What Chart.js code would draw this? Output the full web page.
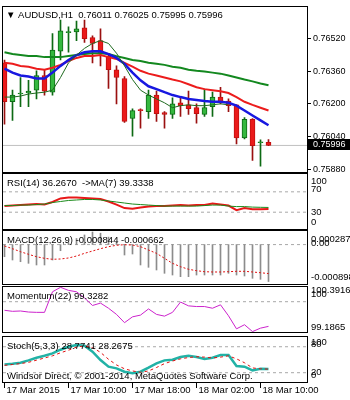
<!DOCTYPE html>
<html>
<head>
<meta charset="utf-8">
<script src="https://cdn.jsdelivr.net/npm/chart.js@4.4.1/dist/chart.umd.min.js"></script>
<style>
  html, body { margin: 0; padding: 0; background: #ffffff; }
  body { width: 350px; height: 400px; position: relative; overflow: hidden; }
  canvas { position: absolute; left: 0; top: 0; }
</style>
</head>
<body>
<canvas id="mainChart" width="350" height="400"></canvas>
<canvas id="rsiChart" width="350" height="400"></canvas>
<canvas id="macdChart" width="350" height="400"></canvas>
<canvas id="momChart" width="350" height="400"></canvas>
<canvas id="stochChart" width="350" height="400"></canvas>
<script>
// ================= DATA =================
const symbol = 'AUDUSD,H1';
const opens  = [0.76401,0.76210,0.76248,0.76253,0.76267,0.76339,0.76257,0.76458,0.76549,0.76553,0.76573,0.76525,0.76510,0.76434,0.76367,0.76324,0.76128,0.76171,0.76162,0.76243,0.76157,0.76148,0.76205,0.76195,0.76181,0.76148,0.76186,0.76233,0.76214,0.76195,0.76033,0.76124,0.76009,0.76011];
const highs  = [0.76415,0.76267,0.76329,0.76315,0.76362,0.76367,0.76544,0.76611,0.76577,0.76606,0.76611,0.76534,0.76568,0.76448,0.76386,0.76334,0.76176,0.76176,0.76267,0.76262,0.76162,0.76229,0.76233,0.76262,0.76200,0.76272,0.76257,0.76281,0.76224,0.76195,0.76133,0.76128,0.76023,0.76025];
const lows   = [0.76100,0.76119,0.76186,0.76186,0.76224,0.76243,0.76243,0.76415,0.76453,0.76510,0.76501,0.76401,0.76386,0.76276,0.76200,0.76109,0.76042,0.76081,0.76128,0.76114,0.76081,0.76128,0.76138,0.76148,0.76105,0.76138,0.76138,0.76200,0.76162,0.76004,0.76028,0.75923,0.75894,0.75995];
const closes = [0.76210,0.76243,0.76253,0.76262,0.76339,0.76262,0.76463,0.76558,0.76553,0.76568,0.76520,0.76496,0.76448,0.76367,0.76329,0.76114,0.76167,0.76167,0.76243,0.76152,0.76148,0.76200,0.76191,0.76176,0.76152,0.76181,0.76233,0.76210,0.76191,0.76033,0.76124,0.75995,0.76014,0.75996];

const maSlow = [0.76453,0.76444,0.76439,0.76434,0.76434,0.76429,0.76429,0.76429,0.76434,0.76439,0.76444,0.76448,0.76448,0.76444,0.76434,0.76425,0.76415,0.76410,0.76401,0.76396,0.76391,0.76382,0.76377,0.76367,0.76362,0.76358,0.76353,0.76348,0.76339,0.76329,0.76319,0.76310,0.76300,0.76291];
const maMid  = [0.76401,0.76396,0.76386,0.76382,0.76372,0.76367,0.76377,0.76391,0.76410,0.76425,0.76434,0.76434,0.76439,0.76429,0.76420,0.76401,0.76382,0.76362,0.76348,0.76339,0.76329,0.76319,0.76310,0.76296,0.76281,0.76272,0.76267,0.76262,0.76253,0.76233,0.76210,0.76195,0.76181,0.76167];
const maFast = [0.76372,0.76353,0.76339,0.76334,0.76324,0.76324,0.76353,0.76386,0.76415,0.76439,0.76453,0.76458,0.76458,0.76444,0.76425,0.76396,0.76353,0.76315,0.76286,0.76272,0.76257,0.76243,0.76233,0.76224,0.76219,0.76214,0.76210,0.76210,0.76205,0.76191,0.76167,0.76143,0.76119,0.76095];
const maThin = [0.76233,0.76233,0.76238,0.76248,0.76253,0.76257,0.76267,0.76329,0.76401,0.76439,0.76472,0.76496,0.76510,0.76496,0.76448,0.76386,0.76319,0.76267,0.76243,0.76224,0.76205,0.76181,0.76191,0.76195,0.76191,0.76191,0.76195,0.76200,0.76195,null,null,null,null,null];
const priceTicks = [0.76520, 0.76360, 0.76200, 0.76040, 0.75880];

const rsiValues = [42,43,44,45,46,45,50,57,59,59,58,57,56,51,45,38,37,39,41,42,42,43,44,43,44,44,47,45,43,34,38,36,36,36.2670];
const rsiMa     = [43,43,44,44,45,46,49,51,53,54,55,55,54,52,50,48,46,45,44,43,42,42,42,42,42,43,44,44,42,41,41,40,39.6,39.3338];
const rsiLevels = [70, 30];
const rsiAxisValues = [100, 70, 30, 0];
const rsiAxisLabels = ['100', '70', '30', '0'];

const macdMain   = [-0.000277,-0.000352,-0.000391,-0.000428,-0.000466,-0.000466,-0.000352,-0.00014,0.00004,0.00014,0.00022,0.000287,0.00026,0.00017,0.00005,-0.000238,-0.000215,-0.000466,-0.000519,-0.00058,-0.000656,-0.000695,-0.000733,-0.000733,-0.000695,-0.000695,-0.000695,-0.000695,-0.000656,-0.000695,-0.000717,-0.00077,-0.000793,-0.000844];
const macdSignal = [-0.000032,-0.000094,-0.000163,-0.000222,-0.000277,-0.000314,-0.000336,-0.000329,-0.000306,-0.000261,-0.0002,-0.000147,-0.000094,-0.000048,-0.000016,-0.000003,-0.00001,-0.000048,-0.000124,-0.0002,-0.000314,-0.000428,-0.000505,-0.000564,-0.000596,-0.000619,-0.000626,-0.000626,-0.000619,-0.00061,-0.00061,-0.000626,-0.000642,-0.000662];
const macdLevels = [0];
const macdAxisValues = [0.000287, 0, -0.000898];
const macdAxisLabels = ['0.000287', '0.00', '-0.000898'];

const momentumValues = [99.766,99.738,99.747,99.719,99.710,99.710,100.270,100.3916,100.308,100.270,100.102,99.897,99.962,99.822,99.654,99.429,99.588,99.635,99.803,99.654,99.607,99.710,99.990,99.887,99.868,99.868,99.822,99.915,99.616,99.261,99.373,99.1865,99.280,99.3282];
const momentumLevels = [100];
const momentumAxisValues = [100.3916, 100, 99.1865];
const momentumAxisLabels = ['100.3916', '100', '99.1865'];

const stochMain   = [39.2,40.8,43.1,48.5,54.6,59.2,64.6,73.1,80,83.8,82.3,68.5,49.2,33.9,30,22.3,18.5,22.3,31.6,41.6,48.5,50,56.2,59.2,56.2,51.5,54.6,60.8,60.8,35.4,33.9,25.4,29.2,28.7741];
const stochSignal = [37,39,41,44,49,54,59,66,72,79,82,78,67,51,38,29,24,21,24,32,41,47,52,55,57,56,54,56,59,52,43,31,29,28.2675];
const stochLevels = [80, 20];
const stochAxisValues = [100, 80, 20, 0];
const stochAxisLabels = ['100', '80', '20', '0'];

const timeLabels = ['17 Mar 2015', '17 Mar 10:00', '17 Mar 18:00', '18 Mar 02:00', '18 Mar 10:00'];
const timeLabelBars = [0, 8, 16, 24, 32];
const copyright = 'Windsor Direct, \u00a9 2001-2014, MetaQuotes Software Corp.';

// ================= STYLE / LAYOUT =================
const FONT_FAMILY = '"Liberation Sans", "DejaVu Sans", Arial, sans-serif';
const FONT_SIZE = 9.5;
const X_MIN = -0.1875, X_MAX = 37.8125;
const AXIS_W = 43;
const panels = {
  main:  { top: 3,   bottom: 172, min: 0.758657, max: 0.766728 },
  rsi:   { top: 174, bottom: 229, min: -3, max: 105 },
  macd:  { top: 231, bottom: 284, min: -0.0009, max: 0.00031 },
  mom:   { top: 287, bottom: 332, min: 99.175, max: 100.40 },
  stoch: { top: 337, bottom: 382, min: -1.5, max: 102.5 }
};
const labelShift = {
  rsi: [4.5, -2, 0, -5.5],
  macd: [7, -1.5, -7],
  mom: [2.7, -7.4, -3.9],
  stoch: [3.9, -2.7, -0.6, -6.4]
};
const C = {
  bullBody: '#35b83f', bullEdge: '#0d6a14', bullWick: '#0d6a14',
  bearBody: '#ea1a1a', bearEdge: '#c01010', bearWick: '#9a1010',
  maSlow: '#13881f', maMid: '#ec1c1c', maFast: '#1818e0', maThin: '#1e6a1e',
  priceLine: '#c0c0c0', level: '#a8a8a8',
  rsi: '#e81818', rsiMa: '#1a8a1a', hist: '#8c8c8c', signal: '#e01010',
  mom: '#cc22cc', stoch: '#22b2a6', stochSig: '#e01010'
};

const pts = arr => arr.map((v, i) => ({ x: i, y: v }));
const span = v => [{ x: X_MIN, y: v }, { x: X_MAX, y: v }];
function line(data, color, width, extra) {
  return Object.assign({ type: 'line', data, borderColor: color, backgroundColor: color,
    borderWidth: width, pointRadius: 0, tension: 0, fill: false, spanGaps: false }, extra || {});
}
function levelLines(levels, order) {
  return levels.map(v => line(span(v), C.level, 1, { borderDash: [3, 3], order }));
}
const framePlugin = {
  id: 'frame',
  afterDraw(chart) {
    const { ctx, chartArea: a } = chart;
    ctx.save();
    ctx.strokeStyle = '#000'; ctx.lineWidth = 1;
    ctx.strokeRect(Math.round(a.left) - 0.5, Math.round(a.top) - 0.5,
      Math.round(a.right - a.left) + 1, Math.round(a.bottom - a.top) + 1);
    ctx.restore();
  }
};
function textPlugin(fn) {
  return {
    id: 'txt',
    afterDatasetsDraw(chart) {
      const ctx = chart.ctx;
      ctx.save();
      ctx.font = FONT_SIZE + 'px ' + FONT_FAMILY;
      ctx.textBaseline = 'middle'; ctx.textAlign = 'left'; ctx.fillStyle = '#000';
      fn(chart, ctx, chart.chartArea);
      ctx.restore();
    }
  };
}
function axisText(chart, ctx, values, labels, shifts) {
  const ys = chart.scales.y, a = chart.chartArea;
  values.forEach((v, i) => ctx.fillText(labels[i], a.right + 4, ys.getPixelForValue(v) + shifts[i]));
}
function xAxis(show) {
  const ax = { type: 'linear', min: X_MIN, max: X_MAX, offset: false, display: false, grid: { display: false } };
  if (show) {
    Object.assign(ax, {
      display: true, position: 'bottom',
      afterBuildTicks: s => { s.ticks = timeLabelBars.map(v => ({ value: v })); },
      afterFit: s => { s.height = 18; },
      ticks: { autoSkip: false, maxRotation: 0, minRotation: 0, align: 'start', labelOffset: 2, padding: -3,
        color: '#000', font: { family: FONT_FAMILY, size: 9.5 },
        callback: v => timeLabels[timeLabelBars.indexOf(v)] },
      grid: { display: true, drawOnChartArea: false, drawTicks: true, tickLength: 6, color: '#000' },
      border: { display: false }
    });
  }
  return ax;
}
function baseOptions(p, hasXAxis, yAxis) {
  return {
    responsive: false, animation: false, events: [],
    layout: { padding: { left: 3, right: yAxis ? 0 : AXIS_W, top: p.top, bottom: 400 - p.bottom - (hasXAxis ? 18 : 0) } },
    plugins: { legend: { display: false }, tooltip: { enabled: false } },
    scales: {
      x: xAxis(hasXAxis),
      y: yAxis || { type: 'linear', display: false, min: p.min, max: p.max }
    }
  };
}
Chart.defaults.font.family = FONT_FAMILY;

// ================= MAIN PRICE CHART =================
const isBull = closes.map((c, i) => c >= opens[i]);
const last = closes.length - 1;
new Chart(document.getElementById('mainChart'), {
  type: 'bar',
  data: {
    datasets: [
      line(pts(maThin), C.maThin, 1, { order: 0 }),
      line(pts(maFast), C.maFast, 2.5, { order: 1 }),
      line(pts(maMid), C.maMid, 2, { order: 2 }),
      line(pts(maSlow), C.maSlow, 2, { order: 3 }),
      { type: 'bar', order: 4, grouped: false, barThickness: 5, minBarLength: 1, borderSkipped: false,
        data: opens.map((o, i) => ({ x: i, y: [o, closes[i]] })),
        backgroundColor: isBull.map(b => b ? C.bullBody : C.bearBody),
        borderColor: isBull.map(b => b ? C.bullEdge : C.bearEdge), borderWidth: 1 },
      { type: 'bar', order: 5, grouped: false, barThickness: 1,
        data: lows.map((l, i) => ({ x: i, y: [l, highs[i]] })),
        backgroundColor: isBull.map(b => b ? C.bullWick : C.bearWick) },
      line(span(closes[last]), C.priceLine, 1, { order: 6 })
    ]
  },
  options: baseOptions(panels.main, false, {
    type: 'linear', position: 'right', min: panels.main.min, max: panels.main.max,
    afterBuildTicks: s => { s.ticks = priceTicks.map(v => ({ value: v })); },
    afterFit: s => { s.width = AXIS_W; },
    ticks: { autoSkip: false, padding: 2, color: '#000', font: { family: FONT_FAMILY, size: 9 },
      callback: v => Number(v).toFixed(5) },
    grid: { display: true, drawOnChartArea: false, drawTicks: true, tickLength: 4, color: '#000' },
    border: { display: false }
  }),
  plugins: [framePlugin, textPlugin((chart, ctx, a) => {
    const title = '\u25BC ' + symbol + '  ' + [opens[last], highs[last], lows[last], closes[last]].map(v => v.toFixed(5)).join(' ');
    ctx.fillText(title, a.left + 3, a.top + 8);
    const y = chart.scales.y.getPixelForValue(closes[last]);
    ctx.font = '9px ' + FONT_FAMILY;
    ctx.fillStyle = '#000';
    ctx.fillRect(a.right + 1, Math.round(y) - 6, 350 - a.right, 11);
    ctx.fillStyle = '#fff';
    ctx.fillText(closes[last].toFixed(5), a.right + 6, Math.round(y) - 0.5);
  })]
});

// ================= RSI =================
new Chart(document.getElementById('rsiChart'), {
  type: 'line',
  data: { datasets: [
    line(pts(rsiMa), C.rsiMa, 1, { order: 0 }),
    line(pts(rsiValues), C.rsi, 2, { order: 1 }),
    ...levelLines(rsiLevels, 2)
  ] },
  options: baseOptions(panels.rsi, false),
  plugins: [framePlugin, textPlugin((chart, ctx, a) => {
    ctx.fillText('RSI(14) ' + rsiValues[last].toFixed(4) + '  ->MA(7) ' + rsiMa[last].toFixed(4), a.left + 4, a.top + 9);
    axisText(chart, ctx, rsiAxisValues, rsiAxisLabels, labelShift.rsi);
  })]
});

// ================= MACD =================
new Chart(document.getElementById('macdChart'), {
  type: 'bar',
  data: { datasets: [
    line(pts(macdSignal), C.signal, 1, { order: 0, borderDash: [2, 2] }),
    { type: 'bar', order: 1, grouped: false, barThickness: 1, data: pts(macdMain), backgroundColor: C.hist },
    ...levelLines(macdLevels, 2)
  ] },
  options: baseOptions(panels.macd, false),
  plugins: [framePlugin, textPlugin((chart, ctx, a) => {
    ctx.fillText('MACD(12,26,9) ' + macdMain[last].toFixed(6) + ' ' + macdSignal[last].toFixed(6), a.left + 4, a.top + 9);
    axisText(chart, ctx, macdAxisValues, macdAxisLabels, labelShift.macd);
  })]
});

// ================= MOMENTUM =================
new Chart(document.getElementById('momChart'), {
  type: 'line',
  data: { datasets: [
    line(pts(momentumValues), C.mom, 1, { order: 0 }),
    ...levelLines(momentumLevels, 1)
  ] },
  options: baseOptions(panels.mom, false),
  plugins: [framePlugin, textPlugin((chart, ctx, a) => {
    ctx.fillText('Momentum(22) ' + momentumValues[last].toFixed(4), a.left + 4, a.top + 9);
    axisText(chart, ctx, momentumAxisValues, momentumAxisLabels, labelShift.mom);
  })]
});

// ================= STOCHASTIC =================
new Chart(document.getElementById('stochChart'), {
  type: 'line',
  data: { datasets: [
    line(pts(stochSignal), C.stochSig, 1, { order: 0, borderDash: [3, 3] }),
    line(pts(stochMain), C.stoch, 2.5, { order: 1 }),
    ...levelLines(stochLevels, 2)
  ] },
  options: baseOptions(panels.stoch, true),
  plugins: [framePlugin, textPlugin((chart, ctx, a) => {
    ctx.fillText('Stoch(5,3,3) ' + stochMain[last].toFixed(4) + ' ' + stochSignal[last].toFixed(4), a.left + 4, a.top + 9);
    ctx.fillText(copyright, a.left + 4, a.bottom - 6);
    axisText(chart, ctx, stochAxisValues, stochAxisLabels, labelShift.stoch);
  })]
});
</script>
</body>
</html>
